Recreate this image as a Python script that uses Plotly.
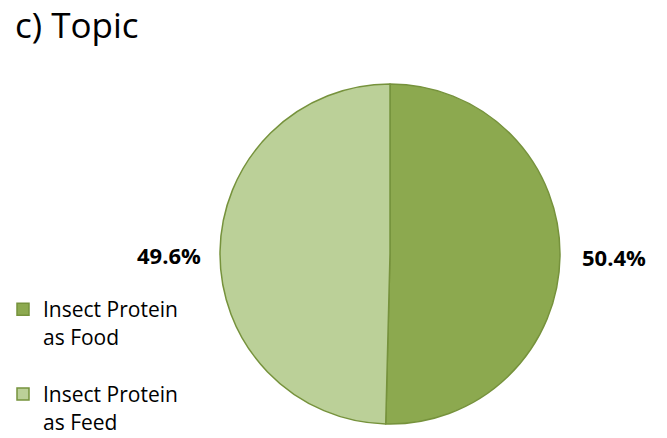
import plotly.graph_objects as go

labels = ["Insect Protein<br>as Food", "Insect Protein<br>as Feed"]
values = [50.4, 49.6]
colors = ["#8CA94F", "#BBD098"]

W, H = 667, 438

fig = go.Figure(go.Pie(
    labels=[l + "<br> " for l in labels], values=values, sort=False, direction="clockwise", rotation=0,
    marker=dict(colors=colors, line=dict(color="#76923C", width=1.5)),
    textinfo="none",
    domain=dict(x=[220/W, 560/W], y=[14/H, 354/H]),
    hoverinfo="label+percent",
))

# data labels (text from the values)
label_pos = [dict(x=580/W, xanchor="left", y=1-257/H), dict(x=203/W, xanchor="right", y=1-255/H)]
for v, p in zip(values, label_pos):
    fig.add_annotation(text=f"<b>{v:.1f}%</b>", xref="paper", yref="paper", showarrow=False,
                       yanchor="middle", font=dict(family="Open Sans", size=22, color="#000000"), **p)

fig.update_layout(
    width=W, height=H, margin=dict(l=0, r=0, t=0, b=0, autoexpand=False),
    paper_bgcolor="white", plot_bgcolor="white",
    title=dict(text="c) Topic", x=15/W, xanchor="left", y=1-26/H, yanchor="middle",
               font=dict(family="Open Sans", size=35, color="#000000")),
    legend=dict(x=3/W, xanchor="left", y=1-289/H, yanchor="top", valign="top",
                font=dict(family="Open Sans", size=21, color="#000000")),
)
fig.write_html("out.html")
